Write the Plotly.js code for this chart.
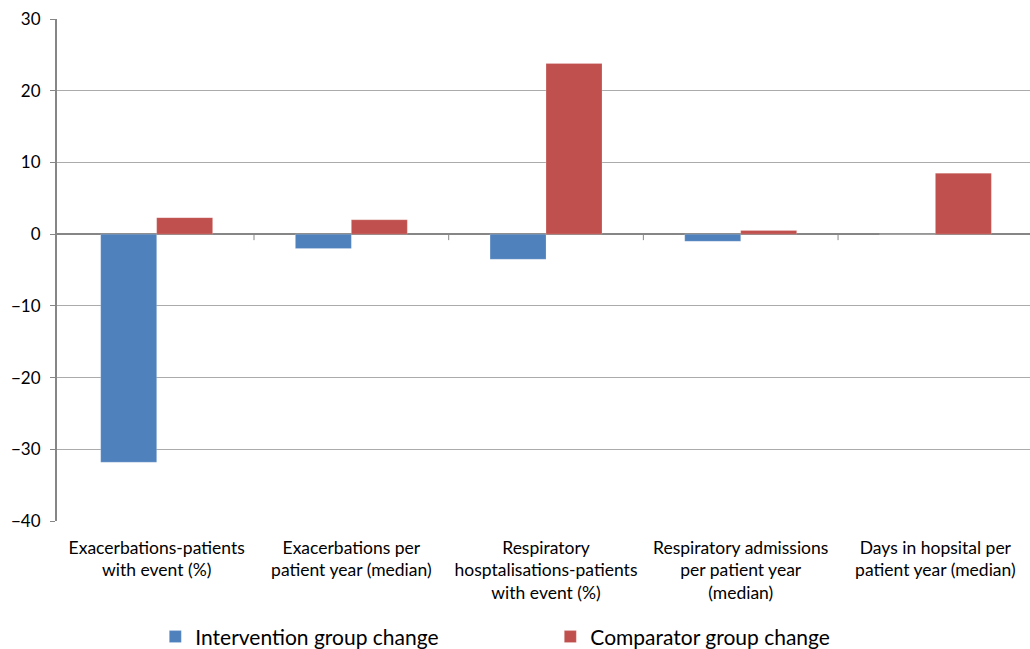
<!DOCTYPE html>
<html>
<head>
<meta charset="utf-8">
<script src="https://cdn.plot.ly/plotly-3.0.1.min.js"></script>
<style>html,body{margin:0;padding:0;background:#fff;}#chart{width:1030px;height:649px;}</style>
</head>
<body>
<div id="chart"></div>
<script>
const categories = [
  "Exacerbations-patients<br>with event (%)",
  "Exacerbations per<br>patient year (median)",
  "Respiratory<br>hosptalisations-patients<br>with event (%)",
  "Respiratory admissions<br>per patient year<br>(median)",
  "Days in hopsital per<br>patient year (median)"
];
const interventionChange = [-31.8, -2.0, -3.5, -1.0, 0];
const comparatorChange = [2.3, 2.0, 23.8, 0.5, 8.5];
const yTicks = [-40, -30, -20, -10, 0, 10, 20, 30];
const yTickText = ["\u221240", "\u221230", "\u221220", "\u221210", "0", "10", "20", "30"];

const font = "Lato, 'Open Sans', sans-serif";
const idx = categories.map((c, i) => i);

const traces = [
  {
    type: "bar", name: "Intervention group change",
    x: idx, y: interventionChange,
    marker: {color: "#4F81BD", line: {color: "rgba(255,255,255,0.4)", width: 0.5}}
  },
  {
    type: "bar", name: "Comparator group change",
    x: idx, y: comparatorChange,
    marker: {color: "#C0504D", line: {color: "rgba(255,255,255,0.4)", width: 0.5}}
  }
];

const shapes = idx.slice(0, -1).map(i => ({
  type: "line", xref: "x", yref: "y",
  x0: i + 0.5, x1: i + 0.5,
  ysizemode: "pixel", yanchor: 0, y0: -6, y1: 0,
  line: {color: "#868686", width: 1}
}));

const layout = {
  width: 1030, height: 649,
  margin: {l: 57, r: 0, t: 19, b: 128, autoexpand: false},
  paper_bgcolor: "#fff", plot_bgcolor: "#fff",
  font: {family: font, size: 16, color: "#000"},
  barmode: "group", bargap: 0.425, bargroupgap: 0,
  showlegend: true,
  legend: {
    orientation: "h", x: 0.507, xanchor: "center", y: -0.231, yanchor: "middle",
    font: {family: font, size: 21, color: "#000"},
    entrywidth: 350, entrywidthmode: "pixels",
    traceorder: "normal"
  },
  xaxis: {
    tickmode: "array", tickvals: idx, ticktext: categories,
    range: [-0.512, 4.486], automargin: false,
    showgrid: false, zeroline: false, showline: false, ticks: "",
    tickfont: {family: font, size: 17.5, color: "#000"},
    ticklabelstandoff: 14
  },
  yaxis: {
    range: [-40, 30], automargin: false,
    tickmode: "array", tickvals: yTicks, ticktext: yTickText,
    showgrid: true, gridcolor: "#ababab", gridwidth: 1,
    zeroline: true, zerolinecolor: "#868686", zerolinewidth: 2,
    showline: true, linecolor: "#868686", linewidth: 2,
    ticks: "outside", ticklen: 5, tickcolor: "#868686",
    tickfont: {family: font, size: 17, color: "#000"},
    ticklabelstandoff: 6
  },
  shapes: shapes
};

Plotly.newPlot("chart", traces, layout, {displayModeBar: false, staticPlot: true});
</script>
</body>
</html>
